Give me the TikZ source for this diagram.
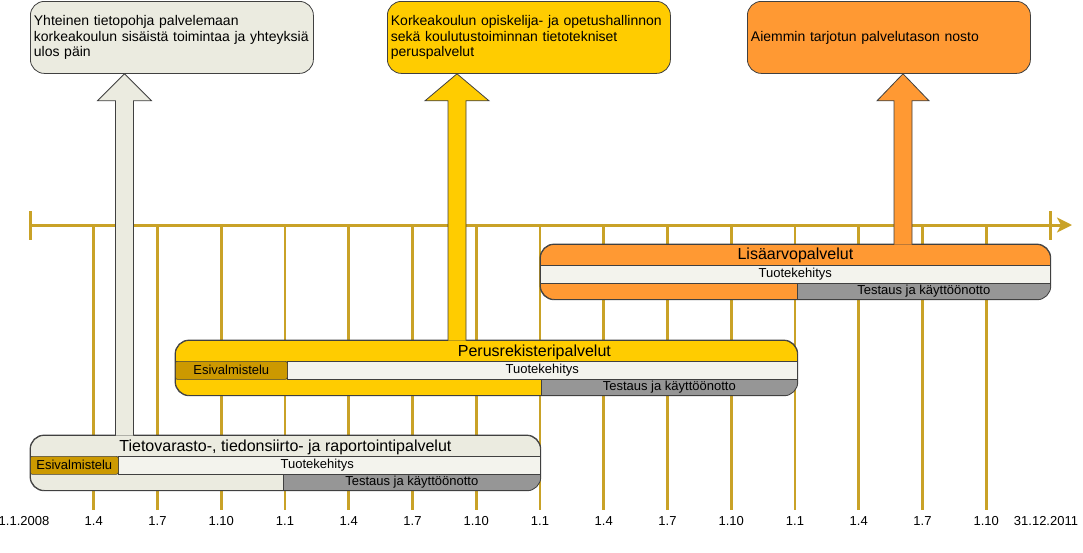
\documentclass[tikz,border=0pt]{standalone}
\usepackage{fontspec}
\setmainfont{Liberation Sans}
\usetikzlibrary{arrows.meta,calc}
\hyphenpenalty=10000
\exhyphenpenalty=10000

\definecolor{aikajana}{RGB}{201,162,39}
\definecolor{viiva}{RGB}{64,64,64}
\definecolor{harmaa}{RGB}{235,235,224}
\definecolor{rivipohja}{RGB}{243,243,237}
\definecolor{keltainen}{RGB}{255,204,0}
\definecolor{oranssi}{RGB}{255,153,51}
\definecolor{esipohja}{RGB}{204,153,0}
\definecolor{testipohja}{RGB}{150,150,150}

% iso nuoli kaistasta tavoitteeseen: tyyli, x, mistä, mihin, kärjen puolileveys
\newcommand{\isonuoli}[5]{%
  \filldraw[#1] let \p1=(#3.north), \p2=(#4.south) in
    (#2pt-9pt,\y1-0.5pt) -- (#2pt-9pt,\y2-27pt) -- (#2pt-#5pt,\y2-27pt) -- (#2pt,\y2)
    -- (#2pt+#5pt,\y2-27pt) -- (#2pt+9pt,\y2-27pt) -- (#2pt+9pt,\y1-0.5pt);}

\tikzset{
  tavoite/.style={draw=viiva, line width=0.8pt, rounded corners=14pt, anchor=north west,
    minimum width=283pt, minimum height=72pt, text width=276pt, inner xsep=3.5pt,
    align=left, font=\fontsize{14}{15.5}\selectfont},
  kaista/.style={draw=viiva, line width=0.8pt, rounded corners=14pt, anchor=north west,
    minimum height=55pt, inner sep=0pt},
  kaistaviiva/.style={draw=viiva, line width=0.8pt, rounded corners=14pt},
  rivi/.style={draw=viiva, line width=0.6pt, fill=rivipohja, anchor=north west,
    minimum height=18pt, inner sep=0pt, font=\fontsize{13}{13}\selectfont},
  esi/.style={rivi, fill=esipohja, rounded corners=2pt},
  testi/.style={rivi, fill=testipohja, minimum height=16pt},
  otsikko/.style={font=\fontsize{16}{16}\selectfont},
  pvm/.style={font=\fontsize{13}{13}\selectfont},
  jana/.style={aikajana, line width=3pt},
  nuoli/.style={draw=viiva, line width=0.8pt},
}

\begin{document}
\begin{tikzpicture}[x=1pt,y=-1pt]
\useasboundingbox (0,0) rectangle (1083,552);

% aikajana
\foreach \i/\pvm in {1/1.4,2/1.7,3/1.10,4/1.1,5/1.4,6/1.7,7/1.10,8/1.1,
                     9/1.4,10/1.7,11/1.10,12/1.1,13/1.4,14/1.7,15/1.10}{
  \draw[jana, line width=2.6pt] (30+\i*63.75,225) -- (30+\i*63.75,510);
  \node[pvm] (pvm\i) at (30+\i*63.75,521) {\pvm};
}
\draw[jana, -{Stealth[length=15pt,width=15pt,inset=4pt]}] (30,225) -- (1072,225);
\draw[jana] (30,211) -- (30,240);
\draw[jana] (1050,211) -- (1050,240);
\node[pvm] (alku) at (24,521) {1.1.2008};
\node[pvm] (loppu) at (1046,521) {31.12.2011};

% Tietovarasto-, tiedonsiirto- ja raportointipalvelut
\node[kaista, fill=harmaa, minimum width=510pt] (tieto) at (30,435) {};
\node[otsikko] (tieto-otsikko) at ($(tieto.north)+(0,12)$) {Tietovarasto-, tiedonsiirto- ja raportointipalvelut};
\node[rivi, minimum width=422pt] (tieto-kehitys) at (118,456) {\hspace*{-24pt}Tuotekehitys};
\node[esi, minimum width=88pt] (tieto-esi) at (30,456) {Esivalmistelu};
\begin{scope}
  \clip[rounded corners=14pt] (tieto.north west) rectangle (tieto.south east);
  \node[testi, minimum width=257pt] (tieto-testaus) at (283,474) {Testaus ja käyttöönotto};
\end{scope}
\draw[kaistaviiva] (tieto.north west) rectangle (tieto.south east);

% Perusrekisteripalvelut
\node[kaista, fill=keltainen, minimum width=622pt] (perus) at (175,340) {};
\node[otsikko] (perus-otsikko) at ($(perus.north)+(48,12)$) {Perusrekisteripalvelut};
\node[rivi, minimum width=510pt] (perus-kehitys) at (287,361) {Tuotekehitys};
\node[esi, minimum width=112pt] (perus-esi) at (175,361) {Esivalmistelu};
\begin{scope}
  \clip[rounded corners=14pt] (perus.north west) rectangle (perus.south east);
  \node[testi, minimum width=256pt] (perus-testaus) at (541,379) {Testaus ja käyttöönotto};
\end{scope}
\draw[kaistaviiva] (perus.north west) rectangle (perus.south east);

% Lisäarvopalvelut
\node[kaista, fill=oranssi, minimum width=510pt] (lisa) at (540,244) {};
\node[otsikko] (lisa-otsikko) at ($(lisa.north)+(0,11)$) {Lisäarvopalvelut};
\node[rivi, minimum width=510pt] (lisa-kehitys) at (540,265) {Tuotekehitys};
\begin{scope}
  \clip[rounded corners=14pt] (lisa.north west) rectangle (lisa.south east);
  \node[testi, minimum width=253pt] (lisa-testaus) at (797,283) {Testaus ja käyttöönotto};
\end{scope}
\draw[kaistaviiva] (lisa.north west) rectangle (lisa.south east);

% tavoitteet
\node[tavoite, fill=harmaa] (tavoite1) at (30,1)
  {Yhteinen tietopohja palvelemaan\\korkeakoulun sisäistä toimintaa ja yhteyksiä\\ulos päin};
\node[tavoite, fill=keltainen] (tavoite2) at (387,1)
  {Korkeakoulun opiskelija- ja opetushallinnon\\sekä koulutustoiminnan tietotekniset\\peruspalvelut};
\node[tavoite, fill=oranssi] (tavoite3) at (747,1) {Aiemmin tarjotun palvelutason nosto};

\isonuoli{nuoli, fill=harmaa}{124.5}{tieto}{tavoite1}{27}
\isonuoli{nuoli, fill=keltainen}{457}{perus}{tavoite2}{32}
\isonuoli{nuoli, fill=oranssi}{903}{lisa}{tavoite3}{26}
\end{tikzpicture}
\end{document}
